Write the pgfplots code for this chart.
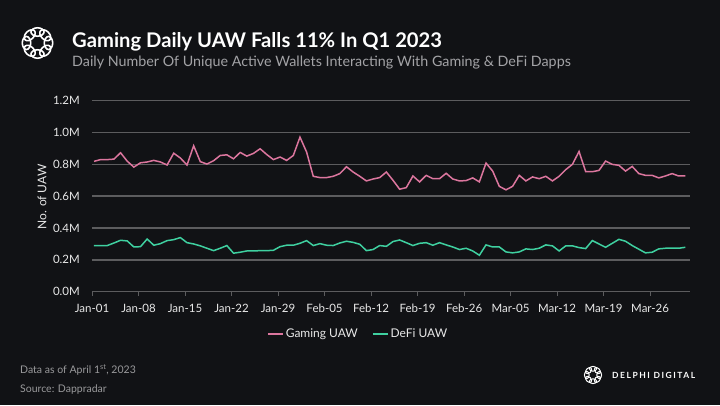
\documentclass[border=0pt]{standalone}
\usepackage{fontspec}
\setmainfont{Lato}
\usepackage{pgfplots}
\pgfplotsset{compat=1.18}
\definecolor{bg}{HTML}{111215}
\definecolor{gridc}{HTML}{5C5C5E}
\definecolor{pinkc}{HTML}{DC769E}
\definecolor{greenc}{HTML}{3FD0A0}
\definecolor{subc}{HTML}{A3A3A6}
\definecolor{footc}{HTML}{9A9A9C}
\definecolor{txt}{HTML}{E8E8E8}
\pgfplotstableread{
x y
0 0.819
1 0.830
2 0.830
3 0.833
4 0.873
5 0.820
6 0.783
7 0.810
8 0.815
9 0.825
10 0.815
11 0.796
12 0.870
13 0.840
14 0.796
15 0.917
16 0.817
17 0.802
18 0.823
19 0.856
20 0.860
21 0.835
22 0.875
23 0.852
24 0.869
25 0.898
26 0.862
27 0.830
28 0.846
29 0.825
30 0.856
31 0.971
32 0.877
33 0.725
34 0.717
35 0.717
36 0.725
37 0.742
38 0.785
39 0.752
40 0.725
41 0.696
42 0.708
43 0.717
44 0.752
45 0.700
46 0.644
47 0.654
48 0.727
49 0.690
50 0.731
51 0.710
52 0.710
53 0.744
54 0.708
55 0.696
56 0.698
57 0.715
58 0.690
59 0.808
60 0.758
61 0.662
62 0.640
63 0.662
64 0.731
65 0.696
66 0.721
67 0.710
68 0.725
69 0.696
70 0.725
71 0.767
72 0.800
73 0.881
74 0.754
75 0.754
76 0.762
77 0.821
78 0.800
79 0.794
80 0.758
81 0.787
82 0.742
83 0.731
84 0.731
85 0.715
86 0.727
87 0.742
88 0.727
89 0.727
}\gaming
\pgfplotstableread{
x y
0 0.290
1 0.290
2 0.290
3 0.306
4 0.323
5 0.319
6 0.281
7 0.283
8 0.331
9 0.292
10 0.302
11 0.321
12 0.327
13 0.340
14 0.308
15 0.300
16 0.288
17 0.273
18 0.258
19 0.273
20 0.290
21 0.242
22 0.248
23 0.256
24 0.256
25 0.258
26 0.258
27 0.260
28 0.283
29 0.292
30 0.292
31 0.304
32 0.321
33 0.290
34 0.302
35 0.292
36 0.290
37 0.306
38 0.317
39 0.310
40 0.298
41 0.258
42 0.265
43 0.290
44 0.285
45 0.315
46 0.325
47 0.308
48 0.290
49 0.304
50 0.308
51 0.292
52 0.308
53 0.294
54 0.281
55 0.265
56 0.273
57 0.256
58 0.229
59 0.294
60 0.281
61 0.281
62 0.250
63 0.244
64 0.250
65 0.269
66 0.265
67 0.273
68 0.294
69 0.288
70 0.256
71 0.288
72 0.288
73 0.277
74 0.271
75 0.321
76 0.300
77 0.279
78 0.304
79 0.329
80 0.317
81 0.290
82 0.267
83 0.244
84 0.248
85 0.269
86 0.273
87 0.273
88 0.273
89 0.279
}\defi
\begin{document}
\begin{tikzpicture}[x=1pt,y=1pt]
\fill[bg] (0,0) rectangle (720,405);
% logo top-left
\begin{scope}[shift={(37.5,362)}]
\foreach \a in {0,45,...,315}{
  \draw[white,line width=1.6pt] (\a:11) circle[x radius=6.5, y radius=4.2, rotate=\a+90];
}
\end{scope}
\node[anchor=base west,inner sep=0pt,text=white,font=\fontsize{20.2}{24}\selectfont\bfseries] at (72,357) {Gaming Daily UAW Falls 11\% In Q1 2023};
\node[anchor=base west,inner sep=0pt,text=subc,font=\fontsize{14.3}{16}\selectfont] at (72,338) {Daily Number Of Unique Active Wallets Interacting With Gaming \& DeFi Dapps};
\begin{axis}[at={(92pt,113.3pt)}, anchor=south west, scale only axis,
  width=598pt, height=191pt,
  xmin=-0.3, xmax=89.7, ymin=0, ymax=1.2,
  axis lines=left,
  axis line style={-},
  y axis line style={draw=none},
  x axis line style={draw=gridc, line width=1.5pt},
  ytick={0,0.2,...,1.2},
  yticklabels={0.0M,0.2M,0.4M,0.6M,0.8M,1.0M,1.2M},
  ymajorgrids,
  grid style={draw=gridc, line width=1.5pt},
  ytick style={draw=none},
  xtick={-0.3,6.7,13.7,20.7,27.7,34.7,41.7,48.7,55.7,62.7,69.7,76.7,83.7},
  xticklabels={Jan-01,Jan-08,Jan-15,Jan-22,Jan-29,Feb-05,Feb-12,Feb-19,Feb-26,Mar-05,Mar-12,Mar-19,Mar-26},
  xtick style={draw=gridc, line width=1pt},
  tick align=outside, major tick length=4pt,
  xticklabel style={text=txt, font=\fontsize{11.5}{12}\selectfont, inner sep=0pt, yshift=-8pt},
  yticklabel style={text=txt, font=\fontsize{11.5}{12}\selectfont, inner sep=0pt, xshift=-8pt},
  /pgf/number format/assume math mode=true,
  legend columns=2,
  legend style={at={(0.445,-0.222)}, anchor=center, draw=none, fill=none, text=txt,
    font=\fontsize{12}{14}\selectfont, /tikz/every even column/.append style={column sep=12pt}},
  legend image code/.code={\draw[#1, line width=1.8pt] (0pt,0pt) -- (15pt,0pt);},
  clip=false,
]
\addplot[pinkc, line width=1.5pt] table[x=x,y=y] {\gaming};
\addlegendentry{Gaming UAW}
\addplot[greenc, line width=1.5pt] table[x=x,y=y] {\defi};
\addlegendentry{DeFi UAW}
\end{axis}
\node[rotate=90, text=txt, font=\fontsize{12}{14}\selectfont] at (42,208) {No. of UAW};
\node[anchor=base west, inner sep=0pt, text=footc, font=\fontsize{10.5}{12}\selectfont] at (20,32) {Data as of April 1\textsuperscript{st}, 2023};
\node[anchor=base west, inner sep=0pt, text=footc, font=\fontsize{10.5}{12}\selectfont] at (20,13) {Source: Dappradar};
% logo bottom-right
\begin{scope}[shift={(593,30)}]
\foreach \a in {0,45,...,315}{
  \draw[white,line width=1pt] (\a:6.2) circle[x radius=3.6, y radius=2.4, rotate=\a+90];
}
\end{scope}
\node[anchor=west, inner sep=0pt, text=white, font=\fontsize{8.5}{10}\selectfont\bfseries\addfontfeatures{LetterSpace=18}] at (612,30) {DELPHI DIGITAL};
\pgfresetboundingbox
\useasboundingbox (0,0) rectangle (720,405);
\end{tikzpicture}
\end{document}
